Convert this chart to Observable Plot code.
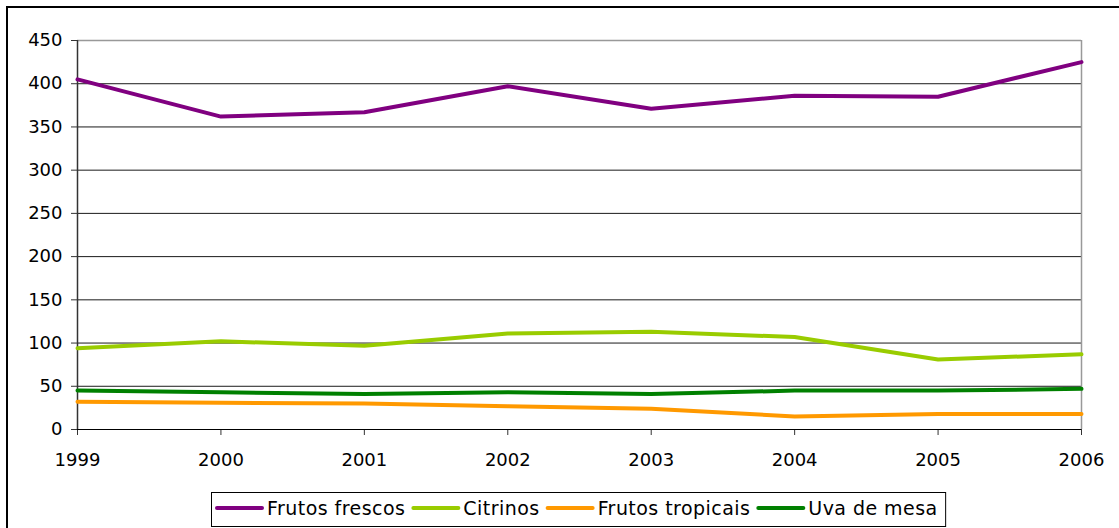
<!DOCTYPE html>
<html>
<head>
<meta charset="utf-8">
<script src="https://cdn.jsdelivr.net/npm/d3@7"></script>
<script src="https://cdn.jsdelivr.net/npm/@observablehq/plot@0.6"></script>
<style>
  html, body { margin: 0; padding: 0; background: #fff; overflow: hidden; }
  body { width: 1119px; height: 528px; position: relative; font-family: "DejaVu Sans", Verdana, sans-serif; }
  #frame { position: absolute; left: 6px; top: 6px; width: 1300px; height: 700px;
           border-left: 2px solid #000; border-top: 2px solid #000; box-sizing: border-box; }
  #chart { position: absolute; left: 0; top: 0; }
  #chart svg text { font-size: 18px; font-family: "DejaVu Sans", Verdana, sans-serif; }
  #legend { position: absolute; left: 0; top: 0; }
</style>
</head>
<body>
<div id="frame"></div>
<div id="chart"></div>
<svg id="legend" width="1119" height="528"></svg>
<script>
const years = [1999, 2000, 2001, 2002, 2003, 2004, 2005, 2006];
const seriesNames = ["Frutos frescos", "Citrinos", "Frutos tropicais", "Uva de mesa"];
const seriesColors = ["#800080", "#99CC00", "#FF9900", "#008000"];
const frutosFrescos   = [405, 362, 367, 397, 371, 386, 385, 425];
const citrinos        = [94, 102, 97, 111, 113, 107, 81, 87];
const frutosTropicais = [32, 31, 30, 27, 24, 15, 18, 18];
const uvaDeMesa       = [45, 43, 41, 43, 41, 45, 45, 47];
const yTicks = [0, 50, 100, 150, 200, 250, 300, 350, 400, 450];

const seriesValues = [frutosFrescos, citrinos, frutosTropicais, uvaDeMesa];
const data = seriesNames.flatMap((name, i) =>
  years.map((year, j) => ({ series: name, year, value: seriesValues[i][j] })));

const plot = Plot.plot({
  width: 1119,
  height: 480,
  marginLeft: 77,
  marginRight: 38,
  marginTop: 40,
  marginBottom: 51,
  style: { fontFamily: "DejaVu Sans, Verdana, sans-serif", fontSize: "18px", color: "#000", background: "transparent" },
  x: { type: "linear", domain: [years[0], years[years.length - 1]] },
  y: { domain: [0, 450] },
  color: { domain: seriesNames, range: seriesColors },
  marks: [
    Plot.ruleY(yTicks.filter(d => d > 0 && d < 450), { stroke: "#1a1a1a", strokeWidth: 1 }),
    Plot.ruleY([450], { stroke: "#999", strokeWidth: 1.5 }),
    Plot.ruleX([years[years.length - 1]], { stroke: "#999", strokeWidth: 1.5 }),
    Plot.axisY({ ticks: yTicks, tickSize: 6, tickPadding: 9, stroke: "#333", fill: "#000", fontSize: 18, label: null }),
    Plot.axisX({ ticks: years, tickFormat: d => String(d), tickSize: 6, tickPadding: 18, stroke: "#333", fill: "#000", fontSize: 18, label: null }),
    Plot.ruleX([years[0]], { stroke: "#333", strokeWidth: 1.5 }),
    Plot.ruleY([0], { stroke: "#000", strokeWidth: 1 }),
    Plot.line(data, { x: "year", y: "value", z: "series", stroke: "series", strokeWidth: 4, strokeLinejoin: "round" })
  ]
});
document.getElementById("chart").appendChild(plot);

// Legend
const svg = d3.select("#legend");
const box = svg.append("rect").attr("x", 211.5).attr("y", 492.5).attr("height", 34)
  .attr("fill", "#fff").attr("stroke", "#000").attr("stroke-width", 1);
let cx = 217;
seriesNames.forEach((name, i) => {
  svg.append("line").attr("x1", cx).attr("x2", cx + 45).attr("y1", 508).attr("y2", 508)
    .attr("stroke", seriesColors[i]).attr("stroke-width", 4).attr("stroke-linecap", "round");
  const t = svg.append("text").attr("x", cx + 50).attr("y", 515)
    .attr("font-family", "DejaVu Sans, Verdana, sans-serif").attr("font-size", 19)
    .attr("letter-spacing", "0.45").attr("fill", "#000").text(name);
  const w = t.node().getComputedTextLength();
  cx = cx + 50 + w + 8;
});
box.attr("width", cx - 211.5 - 0);
</script>
</body>
</html>
